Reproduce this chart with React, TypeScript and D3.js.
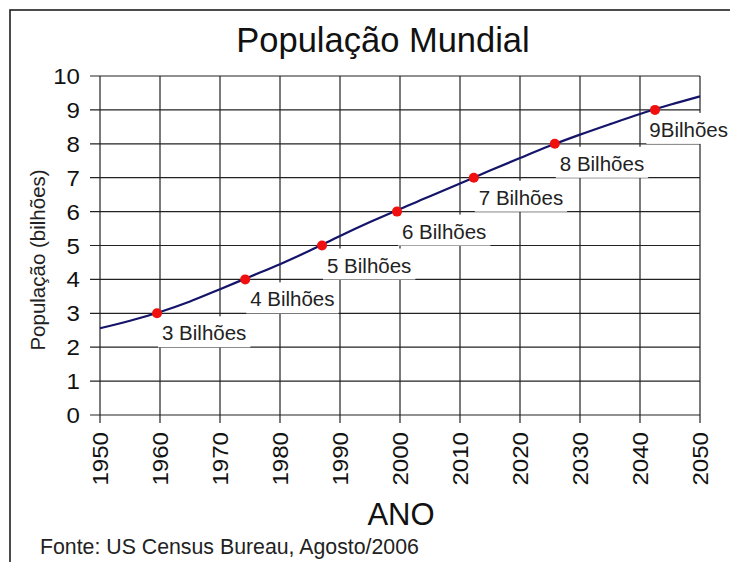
import * as d3 from 'd3';
import React, { useEffect, useRef } from 'react';

// Population curve (billions), US Census Bureau, Aug 2006
const years = [1950, 1955, 1960, 1965, 1970, 1975, 1980, 1985, 1990, 1995, 2000, 2005, 2010, 2015, 2020, 2025, 2030, 2035, 2040, 2045, 2050];
const population = [2.56, 2.78, 3.04, 3.35, 3.71, 4.08, 4.45, 4.85, 5.28, 5.69, 6.08, 6.45, 6.83, 7.21, 7.58, 7.94, 8.27, 8.58, 8.88, 9.15, 9.4];

// milestones marked with red dots
const milestoneYears = [1959.5, 1974.2, 1987, 1999.5, 2012.3, 2025.8, 2042.5];
const milestoneValues = [3, 4, 5, 6, 7, 8, 9];
const milestoneLabels = ['3 Bilhões', '4 Bilhões', '5 Bilhões', '6 Bilhões', '7 Bilhões', '8 Bilhões', '9Bilhões'];

const xTicks = [1950, 1960, 1970, 1980, 1990, 2000, 2010, 2020, 2030, 2040, 2050];
const yTicks = [0, 1, 2, 3, 4, 5, 6, 7, 8, 9, 10];

const App: React.FC = () => {
  const svgRef = useRef<SVGSVGElement | null>(null);

  useEffect(() => {
    if (!svgRef.current) return;
    const W = 730;
    const H = 562;
    const margin = { top: 76, right: 30, bottom: 147, left: 100 };
    const font = '"Liberation Sans", Arial, sans-serif';
    const stretch = 1.12; // tick labels are a bit wider than plain Arial

    const svg = d3.select(svgRef.current);
    svg.selectAll('*').remove();
    svg.attr('width', W).attr('height', H).attr('viewBox', `0 0 ${W} ${H}`);

    svg.append('rect').attr('width', W).attr('height', H).attr('fill', '#fff');

    // outer frame (only top and left visible)
    svg.append('path').attr('d', `M10,${H} L10,10 L${W},10`).attr('fill', 'none').attr('stroke', '#111').attr('stroke-width', 1.5);

    const x = d3.scaleLinear().domain([1950, 2050]).range([margin.left, W - margin.right]);
    const y = d3.scaleLinear().domain([0, 10]).range([H - margin.bottom, margin.top]);

    // grid
    const grid = svg.append('g').attr('stroke', '#222').attr('stroke-width', 1.2);
    grid.selectAll('line.h').data(yTicks).enter().append('line')
      .attr('x1', margin.left - 10).attr('x2', W - margin.right)
      .attr('y1', (d) => y(d)).attr('y2', (d) => y(d));
    grid.selectAll('line.v').data(xTicks).enter().append('line')
      .attr('x1', (d) => x(d)).attr('x2', (d) => x(d))
      .attr('y1', y(10)).attr('y2', y(0) + 8);

    // y tick labels
    svg.append('g').selectAll('text').data(yTicks).enter().append('text')
      .attr('transform', (d) => `translate(${margin.left - 20},${y(d) + 8}) scale(${stretch},1)`)
      .attr('text-anchor', 'end').attr('font-family', font).attr('font-size', 21.5)
      .attr('fill', '#111').text((d) => String(d));

    // x tick labels (rotated)
    svg.append('g').selectAll('text').data(xTicks).enter().append('text')
      .attr('transform', (d) => `translate(${x(d) + 7.5},${y(0) + 17}) rotate(-90) scale(${stretch},1)`)
      .attr('text-anchor', 'end').attr('font-family', font).attr('font-size', 21.5)
      .attr('fill', '#111').text((d) => String(d));

    // label boxes + labels
    const labels = svg.append('g');
    milestoneYears.forEach((yr, i) => {
      const px = x(yr);
      const py = y(milestoneValues[i]);
      const g = labels.append('g');
      const box = g.append('rect').attr('fill', '#fff');
      const t = g.append('text')
        .attr('y', py + 27)
        .attr('font-family', font).attr('font-size', 20.5).attr('fill', '#222')
        .text(milestoneLabels[i]);
      const len = (t.node() as SVGTextElement).getComputedTextLength();
      const tx = Math.min(px + 5, W - 2 - len);
      t.attr('x', tx);
      box.attr('x', Math.min(px + 1, tx - 3)).attr('y', py + 3).attr('width', len + 8).attr('height', 31);
    });

    // population line
    const line = d3.line<number>().x((_, i) => x(years[i])).y((d) => y(d)).curve(d3.curveMonotoneX);
    svg.append('path').datum(population).attr('d', line)
      .attr('fill', 'none').attr('stroke', '#14146a').attr('stroke-width', 2.2);

    // milestone dots
    svg.append('g').selectAll('circle').data(milestoneYears).enter().append('circle')
      .attr('cx', (d) => x(d)).attr('cy', (_, i) => y(milestoneValues[i]))
      .attr('r', 5).attr('fill', '#f01010');

    // titles
    svg.append('text').attr('x', 383).attr('y', 52).attr('text-anchor', 'middle')
      .attr('font-family', font).attr('font-size', 34.5).attr('fill', '#111').text('População Mundial');
    svg.append('text').attr('x', 401).attr('y', 525).attr('text-anchor', 'middle')
      .attr('font-family', font).attr('font-size', 31).attr('fill', '#111').text('ANO');
    svg.append('text').attr('transform', 'translate(45,260) rotate(-90)')
      .attr('text-anchor', 'middle').attr('font-family', font).attr('font-size', 20.5)
      .attr('fill', '#222').text('População (bilhões)');
    svg.append('text').attr('x', 40).attr('y', 554)
      .attr('font-family', font).attr('font-size', 21.3).attr('fill', '#222')
      .text('Fonte: US Census Bureau, Agosto/2006');
  }, []);

  return <svg ref={svgRef} style={{ position: 'absolute', left: 0, top: 0, display: 'block' }} />;
};

export default App;
